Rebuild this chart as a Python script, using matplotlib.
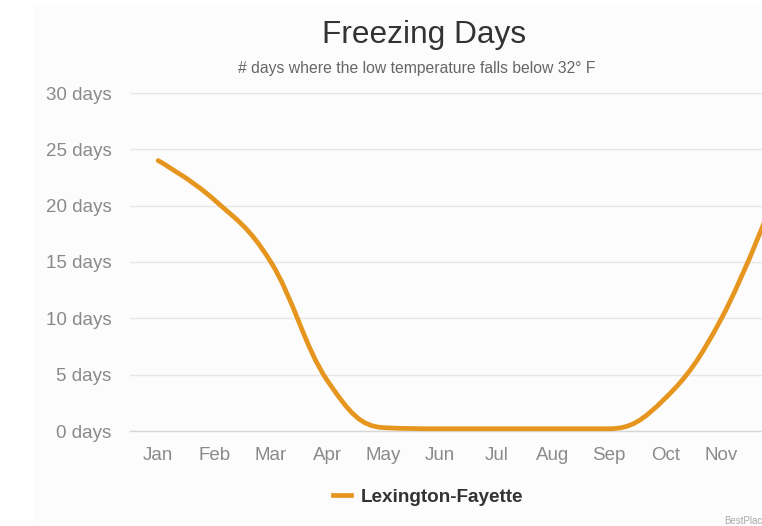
import matplotlib
matplotlib.use("Agg")
import matplotlib.pyplot as plt
from matplotlib.path import Path
from matplotlib.patches import PathPatch, Rectangle
from matplotlib.lines import Line2D

# ------------------------------------------------------------
# DATA
# ------------------------------------------------------------

months = ["Jan", "Feb", "Mar", "Apr", "May", "Jun",
          "Jul", "Aug", "Sep", "Oct", "Nov", "Dec"]
freezing_days = [24.0, 20.5, 15.0, 4.5, 0.3, 0.2,
                 0.2, 0.2, 0.2, 2.9, 10.0, 21.5]
y_ticks = [0, 5, 10, 15, 20, 25, 30]
series_name = "Lexington-Fayette"

LINE_COLOR = "#e6961e"
TEXT_GRAY = "#8a8a8a"


# ------------------------------------------------------------
# SPLINE PATH (highcharts-style bezier control points)
# ------------------------------------------------------------

def spline_path(xs, ys, smoothing=1.5):
    denom = smoothing + 1
    n = len(xs)
    left = [None] * n
    right = [None] * n
    for i in range(1, n - 1):
        px, py = xs[i], ys[i]
        lx, ly = xs[i - 1], ys[i - 1]
        nx, ny = xs[i + 1], ys[i + 1]
        lcx = (smoothing * px + lx) / denom
        lcy = (smoothing * py + ly) / denom
        rcx = (smoothing * px + nx) / denom
        rcy = (smoothing * py + ny) / denom
        if rcx != lcx:
            corr = ((rcy - lcy) * (rcx - px)) / (rcx - lcx) + py - rcy
            lcy += corr
            rcy += corr
        if lcy > ly and lcy > py:
            lcy = max(ly, py)
            rcy = 2 * py - lcy
        elif lcy < ly and lcy < py:
            lcy = min(ly, py)
            rcy = 2 * py - lcy
        if rcy > ny and rcy > py:
            rcy = max(ny, py)
            lcy = 2 * py - rcy
        elif rcy < ny and rcy < py:
            rcy = min(ny, py)
            lcy = 2 * py - rcy
        left[i] = (lcx, lcy)
        right[i] = (rcx, rcy)

    verts = [(xs[0], ys[0])]
    codes = [Path.MOVETO]
    for i in range(1, n):
        c1 = right[i - 1] if right[i - 1] else (xs[i - 1], ys[i - 1])
        c2 = left[i] if left[i] else (xs[i], ys[i])
        verts += [c1, c2, (xs[i], ys[i])]
        codes += [Path.CURVE4] * 3
    return Path(verts, codes)


# ------------------------------------------------------------
# PLOTTING
# ------------------------------------------------------------

plt.rcParams["font.family"] = ["Liberation Sans", "DejaVu Sans"]

W, H = 762, 526
fig = plt.figure(figsize=(W / 100, H / 100), dpi=100)
fig.patch.set_facecolor("white")

# light chart panel (cropped screenshot of a larger chart)
panel = Rectangle((33 / W, 0), 1, (H - 5) / H, transform=fig.transFigure,
                  facecolor="#fcfcfc", edgecolor="none", zorder=-10)
fig.add_artist(panel)

left_px, right_px = 130, 806
top_px, bottom_px = 93, 431
ax = fig.add_axes([left_px / W, (H - bottom_px) / H,
                   (right_px - left_px) / W, (bottom_px - top_px) / H])
ax.set_facecolor("none")

x = list(range(len(months)))
path = spline_path(x, freezing_days)
ax.add_patch(PathPatch(path, facecolor="none", edgecolor=LINE_COLOR,
                       linewidth=3.4, capstyle="round", joinstyle="round",
                       zorder=3, clip_on=False))

ax.set_xlim(-0.5, len(months) - 0.5)
ax.set_ylim(0, 30)

ax.set_yticks(y_ticks)
ax.set_yticklabels([f"{v} days" for v in y_ticks])
ax.set_xticks(x)
ax.set_xticklabels(months)

ax.grid(axis="y", color="#e6e6e6", linewidth=1)
ax.set_axisbelow(True)
for s in ["top", "right", "left"]:
    ax.spines[s].set_visible(False)
ax.spines["bottom"].set_color("#d8d8d8")
ax.spines["bottom"].set_linewidth(1)

ax.tick_params(axis="y", length=0, pad=13.5, labelsize=13.5, labelcolor=TEXT_GRAY)
ax.tick_params(axis="x", length=0, pad=11.5, labelsize=13.5, labelcolor=TEXT_GRAY)

# titles
fig.text(424 / W, 1 - 35 / H, "Freezing Days", ha="center", va="center",
         fontsize=22.8, color="#333333")
fig.text(417 / W, 1 - 68 / H, "# days where the low temperature falls below 32\u00b0 F",
         ha="center", va="center", fontsize=11.3, color="#666666")

# legend
handle = Line2D([], [], color=LINE_COLOR, linewidth=3.4)
leg = fig.legend([handle], [series_name], loc="center",
                 bbox_to_anchor=(428 / W, 1 - 497 / H), frameon=False,
                 handlelength=1.0, handletextpad=0.5,
                 prop={"weight": "bold", "size": 13.6})
for t in leg.get_texts():
    t.set_color("#333333")

# credit (cut off on the right in the reference)
fig.text(724 / W, 1 - 521 / H, "BestPlaces.net", ha="left", va="center",
         fontsize=7, color="#aaaaaa")

fig.savefig("out.png", dpi=100, facecolor=fig.get_facecolor())
